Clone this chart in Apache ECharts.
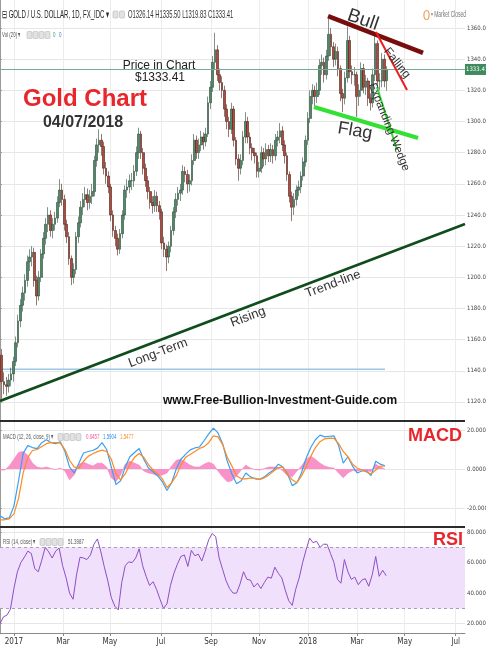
<!DOCTYPE html>
<html>
<head>
<meta charset="utf-8">
<script src="https://cdn.jsdelivr.net/npm/echarts@6/dist/echarts.min.js"></script>
<style>
  html, body { margin: 0; padding: 0; background: #ffffff; }
  #chart { width: 486px; height: 650px; }
</style>
</head>
<body>
<div id="chart"></div>
<script>
// ---------------- data ----------------
// Gold / USD, one candle per two trading days: [open, close, low, high]
const candleFirstBar = 1.5;
const candleStep = 2;
const candles = [
  [1150,1133,1122,1154],[1133,1131,1125,1139],[1131,1130,1124,1136],[1130,1134,1126,1138],[1134,1138,1130,1142],
  [1138,1146,1133,1149],[1146,1158,1143,1162],[1158,1172,1155,1176],[1172,1182,1168,1186],[1182,1190,1178,1194],
  [1190,1198,1185,1202],[1198,1210,1194,1214],[1210,1213,1204,1218],[1213,1216,1207,1220],[1216,1198,1194,1219],
  [1198,1188,1182,1201],[1188,1200,1185,1204],[1200,1215,1197,1218],[1215,1225,1212,1229],[1225,1234,1221,1238],
  [1234,1240,1229,1245],[1240,1230,1226,1243],[1230,1234,1225,1238],[1234,1238,1230,1242],[1238,1248,1235,1252],
  [1248,1256,1245,1263],[1256,1250,1246,1260],[1250,1234,1230,1253],[1234,1226,1222,1237],[1226,1212,1208,1229],
  [1212,1200,1195,1214],[1200,1205,1196,1209],[1205,1226,1202,1229],[1226,1235,1222,1239],[1235,1245,1232,1249],
  [1245,1250,1240,1254],[1250,1253,1245,1258],[1253,1248,1243,1257],[1248,1252,1244,1256],[1252,1255,1247,1260],
  [1255,1275,1252,1278],[1275,1285,1271,1289],[1285,1288,1280,1295],[1288,1284,1278,1292],[1284,1270,1266,1287],
  [1270,1265,1260,1274],[1265,1258,1254,1268],[1258,1240,1236,1260],[1240,1230,1226,1243],[1230,1225,1220,1233],
  [1225,1218,1214,1228],[1218,1228,1215,1231],[1228,1240,1225,1243],[1240,1256,1237,1259],[1256,1258,1251,1263],
  [1258,1262,1254,1266],[1262,1262,1256,1267],[1262,1268,1258,1272],[1268,1280,1265,1284],[1280,1292,1276,1296],
  [1292,1280,1276,1294],[1280,1270,1266,1283],[1270,1262,1258,1273],[1262,1255,1250,1265],[1255,1248,1244,1258],
  [1248,1246,1241,1252],[1246,1252,1242,1256],[1252,1246,1242,1255],[1246,1242,1237,1249],[1242,1222,1218,1244],
  [1222,1218,1213,1226],[1218,1213,1204,1221],[1213,1220,1209,1223],[1220,1230,1216,1233],[1230,1242,1227,1245],
  [1242,1250,1238,1254],[1250,1254,1246,1258],[1254,1256,1249,1260],[1256,1268,1253,1272],[1268,1266,1261,1271],
  [1266,1260,1254,1269],[1260,1262,1255,1266],[1262,1275,1259,1279],[1275,1288,1272,1292],[1288,1280,1276,1291],
  [1280,1285,1276,1289],[1285,1290,1281,1294],[1290,1287,1282,1293],[1287,1292,1284,1296],[1292,1312,1290,1316],
  [1312,1322,1308,1326],[1322,1338,1319,1342],[1338,1346,1333,1357],[1346,1330,1326,1349],[1330,1325,1320,1334],
  [1325,1320,1315,1329],[1320,1308,1303,1323],[1308,1300,1295,1311],[1300,1295,1290,1303],[1295,1308,1292,1312],
  [1308,1288,1284,1310],[1288,1276,1272,1290],[1276,1270,1262,1279],[1270,1275,1266,1279],[1275,1290,1272,1294],
  [1290,1300,1286,1306],[1300,1290,1286,1303],[1290,1283,1279,1293],[1283,1280,1275,1286],[1280,1278,1273,1283],
  [1278,1268,1264,1280],[1268,1270,1264,1274],[1270,1280,1267,1284],[1280,1276,1271,1283],[1276,1282,1272,1286],
  [1282,1278,1274,1285],[1278,1282,1274,1286],[1282,1278,1273,1285],[1278,1288,1275,1292],[1288,1290,1284,1294],
  [1290,1294,1286,1299],[1294,1285,1281,1297],[1285,1278,1273,1288],[1278,1266,1262,1280],[1266,1252,1248,1268],
  [1252,1245,1236,1255],[1245,1250,1240,1254],[1250,1256,1246,1259],[1256,1258,1252,1262],[1258,1265,1254,1268],
  [1265,1274,1262,1277],[1274,1288,1271,1291],[1288,1302,1285,1306],[1302,1316,1299,1320],[1316,1320,1311,1324],
  [1320,1316,1310,1323],[1316,1320,1312,1325],[1320,1336,1317,1340],[1336,1338,1330,1343],[1338,1330,1325,1341],
  [1330,1342,1327,1346],[1342,1356,1339,1366],[1356,1348,1342,1360],[1348,1340,1335,1351],[1340,1345,1336,1350],
  [1345,1334,1329,1348],[1334,1318,1313,1336],[1318,1315,1306,1321],[1315,1328,1311,1332],[1328,1352,1325,1361],
  [1352,1332,1328,1355],[1332,1330,1324,1336],[1330,1330,1323,1335],[1330,1316,1303,1332],[1316,1320,1310,1324],
  [1320,1334,1316,1338],[1334,1322,1318,1337],[1322,1326,1317,1330],[1326,1315,1310,1328],[1315,1312,1307,1318],
  [1312,1330,1309,1334],[1330,1350,1326,1356],[1350,1326,1322,1352],[1326,1326,1320,1331],[1326,1340,1322,1344],
  [1340,1326,1322,1343],[1326.14,1333.41,1319.83,1335.50]
];

// MACD (12, 26, close, 9), one value every four trading days
const macdStep = 4;
const macdLine = [
  -24,-25.5,-25,-19,-6,8,12,11,10.5,13.5,
  15,13.5,13,14,9,1,-2,3,8.2,9,
  9.5,10.7,13.5,10,1,-8,-6,1,6.3,8.5,
  10.5,5,0.5,-1.4,-3.5,-6.5,-11,-7,0,5,
  7.5,9.8,10.8,11.3,14.5,18,21,18.5,13,4,
  -2.5,-7.5,-6,-2,-4,-5,-5.3,-4,-2,-0.5,
  2.5,1,-2.5,-8.5,-7,-2,5.5,11,15,17.4,
  16.5,16.8,17,12,3,6.3,1.5,-2,-1,-1,
  -3.3,4,2.5,1.5904
];
const signalLine = [
  -26,-26,-25.5,-23,-15,-2,6,9.5,10,11.5,
  13,13.5,13.5,13.3,10,4.5,1,0.5,4,6.5,
  7.8,8.9,9.7,9,5,-2.5,-5.5,-2.5,2.5,6,
  8,6,2.3,-0.5,-2.5,-5,-9.5,-7,-3.5,2,
  6,7.5,9,10.5,11.5,13.5,17,16.5,12.5,6,
  1.5,-3.5,-5,-5,-4.6,-4.8,-5.3,-4.5,-3,-1,
  0.8,1,-3,-5.5,-7,-3.5,1,6.5,11,14,
  15.5,15.8,15.7,13,9,6.3,2.5,0.5,-0.5,-1.5,
  -2.6,-0.5,1.5,1.5477
];
const macdHist = [
  -0.5,-0.5,1.5,5,8.5,9,7,3,1,0.5,
  1,0.3,-0.3,0.5,-1,-5.5,-3,2.5,3.5,2.5,
  1.5,3,3,1,-4.5,-6.5,-3,2.5,4,3,
  2,-1,-2,-2.5,-3.5,-3,-2,1.5,4.5,5,
  3.5,2,1,1,2.5,3.5,2.5,-1,-4,-6.5,
  -6,-3.5,-0.5,2,0.5,-0.3,-0.5,0.3,1,1,
  0.8,-1,-3.5,-4,-1,1.5,5,6.5,5,3,
  1.5,0.8,0.5,-2,-4.5,-2,-0.8,-1,-0.5,-1,
  -1.2,2.5,1,0.0457
];

// RSI (14, close), one value every three trading days
const rsiStep = 3;
const rsiLine = [
  20,24.5,25.6,29.5,43,54,60,63.5,67.5,66,
  56,54,61.5,70,67,63,67.5,69.5,58,50,
  40,36,52,63.5,63,62,65,72,75.5,67,
  57,48,37,31.5,29,47,58,60.5,60,63,
  69,58,51,45,47.5,42.5,36,30,33,45,
  53,59,64,65,57.5,68,64.5,65.5,61,67.5,
  75,79,77,63,55.5,48,43,40,40,46,
  54,49,48.5,44,46.5,43,47,50.5,49.8,57,
  53,50,42,35,32,42.5,50,60,68.5,76,
  73,74,70,72,72,66,60,49,46.5,62,
  54,49,50.5,45.5,48.5,49.5,44.5,52,64,51,
  55,51.3987
];

// axis ticks
const priceTicks = [1120,1140,1160,1180,1200,1220,1240,1260,1280,1300,1320,1340,1360];
const macdTicks = [-20, 0, 20];
const rsiTicks = [20, 40, 60, 80];
const dateTickBars = [12, 54.3, 94.8, 138.8, 181.9, 223.3, 265.5, 307.8, 349, 393];
const dateTickText = ['2017','Mar','May','Jul','Sep','Nov','2018','Mar','May','Jul'];

// drawn trend lines: [bar, price]
const trendLine   = [[0, 1120.6], [401, 1234.2]];
const supportLine = [[0, 1141], [332, 1141]];
const bullLine    = [[282.9, 1367.7], [364.8, 1344.0]];
const fallingLine = [[324.2, 1357.4], [351.0, 1320.2]];
const flagLine    = [[270.8, 1309.3], [360.5, 1289.4]];
const wedgeLine   = [[325.1, 1322.1], [342.4, 1281.7]];

// ---------------- chart ----------------
const BAR_MAX = 401;
const NARROW = "'Liberation Sans Narrow','DejaVu Sans Condensed','Liberation Sans',sans-serif";
const SANS = "'Liberation Sans',Arial,sans-serif";
const lastCandle = candles[candles.length - 1];
const lastClose = lastCandle[1];

const candleData = candles.map((c, i) => [candleFirstBar + candleStep * i, c[0], c[1], c[2], c[3]]);
const stepped = (arr, step) => arr.map((v, j) => [j * step, v]);

function dateLabel(v) {
  const k = dateTickBars.findIndex(b => Math.abs(b - v) < 0.01);
  return k >= 0 ? dateTickText[k] : '';
}

function xAxisFor(gridIndex, withLabels) {
  return {
    type: 'value', gridIndex, min: 0, max: BAR_MAX,
    axisLine: { show: withLabels, lineStyle: { color: '#8a8a8a' } },
    axisTick: { show: withLabels, customValues: dateTickBars, length: 3, lineStyle: { color: '#8a8a8a' } },
    axisLabel: { show: withLabels, customValues: dateTickBars, formatter: dateLabel,
                 fontSize: 8, color: '#333', fontFamily: NARROW, margin: 5 },
    splitLine: { show: true, lineStyle: { color: '#ececec', width: 1 } }
  };
}

function yAxisFor(gridIndex, min, max, ticks, digits) {
  return {
    type: 'value', gridIndex, position: 'right', min, max,
    axisLine: { show: true, lineStyle: { color: '#9a9a9a' } },
    axisTick: { show: true, customValues: ticks, length: 2, lineStyle: { color: '#9a9a9a' } },
    axisLabel: { customValues: ticks, formatter: v => v.toFixed(digits),
                 fontSize: 6, color: '#444', fontFamily: NARROW, margin: 2 },
    splitLine: { show: true, lineStyle: { color: '#e6e6e6', width: 1 } }
  };
}

function trend(data, color, width, z) {
  return { type: 'line', xAxisIndex: 0, yAxisIndex: 0, data, showSymbol: false, silent: true,
           lineStyle: { color, width, cap: 'butt' }, z };
}

// small helpers for header/legend text that is drawn horizontally condensed
function squeezed(text, x, y, size, fill, sx) {
  return { type: 'text', x, y, scaleX: sx || 0.55, z: 50,
           style: { text, x: 0, y: 0, fill, font: `${size}px ${SANS}`,
                    textAlign: 'left', textVerticalAlign: 'middle', align: 'left', verticalAlign: 'middle' } };
}
function iconBox(x, y) {
  return { type: 'rect', z: 50, shape: { x, y, width: 5, height: 7, r: 1 },
           style: { fill: '#e2e2e2', stroke: '#b8b8b8', lineWidth: 0.6 } };
}
function label(text, x, y, size, fill, weight, rotation) {
  return { type: 'text', x, y, rotation: rotation || 0, z: 60,
           style: { text, x: 0, y: 0, fill, font: `${weight || 'normal'} ${size}px ${SANS}`,
                    textAlign: 'center', textVerticalAlign: 'middle', align: 'center', verticalAlign: 'middle' } };
}

const ohlcText = `O${lastCandle[0].toFixed(2)} H${lastCandle[3].toFixed(2)} L${lastCandle[2].toFixed(2)} C${lastCandle[1].toFixed(2)}`;

const graphics = [
  // panel separators
  { type: 'line', z: 40, shape: { x1: 0, y1: 421, x2: 465, y2: 421 }, style: { stroke: '#2b2b2b', lineWidth: 2 } },
  { type: 'line', z: 40, shape: { x1: 0, y1: 527, x2: 465, y2: 527 }, style: { stroke: '#2b2b2b', lineWidth: 2 } },

  // price pane header
  squeezed('⊟ GOLD / U.S. DOLLAR, 1D, FX_IDC ▾', 2, 15, 11, '#222', 0.55),
  iconBox(113, 11), iconBox(119.5, 11),
  squeezed(ohlcText, 128, 15, 11, '#333', 0.53),
  squeezed('Vol (20) ▾', 2, 35, 8, '#555', 0.55),
  iconBox(27, 31.5), iconBox(33, 31.5), iconBox(39, 31.5), iconBox(45, 31.5),
  squeezed('0', 53, 35, 8, '#2e9e4f', 0.55),
  squeezed('0', 59, 35, 8, '#2a7fd4', 0.55),
  { type: 'ellipse', z: 50, shape: { cx: 426.5, cy: 15, rx: 2.6, ry: 4.5 }, style: { fill: 'none', stroke: '#f0a060', lineWidth: 1.2 } },
  squeezed('▪ Market Closed', 431, 15, 9, '#777', 0.55),

  // annotations in price pane
  label('Price in Chart', 159, 66, 12, '#222'),
  label('$' + lastClose.toFixed(2), 160, 78, 12, '#222'),
  label('Gold Chart', 85, 99, 24, '#e8262b', 'bold'),
  label('04/07/2018', 83, 123, 16, '#333', 'bold'),
  label('Bull', 363, 20, 19, '#333', 'normal', -0.33),
  label('Falling', 397, 63, 12, '#333', 'normal', -0.9),
  label('Flag', 355, 131, 18, '#333', 'normal', -0.17),
  label('Expanding Wedge', 389, 127, 11.5, '#333', 'normal', -1.19),
  label('Long-Term', 158, 353, 13, '#333', 'normal', 0.36),
  label('Rising', 248, 317, 13, '#333', 'normal', 0.36),
  label('Trend-line', 333, 284, 13, '#333', 'normal', 0.36),
  label('www.Free-Bullion-Investment-Guide.com', 280, 401, 12, '#111', 'bold'),

  // MACD pane legend
  squeezed('MACD (12, 26, close, 9) ▾', 3, 437, 8, '#555', 0.55),
  iconBox(58, 433.5), iconBox(64, 433.5), iconBox(70, 433.5), iconBox(76, 433.5),
  squeezed(macdHist[macdHist.length - 1].toFixed(4), 86, 437, 8, '#f0509a', 0.55),
  squeezed(macdLine[macdLine.length - 1].toFixed(4), 103, 437, 8, '#2a8fe8', 0.55),
  squeezed(signalLine[signalLine.length - 1].toFixed(4), 120, 437, 8, '#ff8a1f', 0.55),
  label('MACD', 435, 436, 18, '#e8262b', 'bold'),

  // RSI pane legend
  squeezed('RSI (14, close) ▾', 3, 542, 8, '#555', 0.55),
  iconBox(40, 538.5), iconBox(46, 538.5), iconBox(52, 538.5), iconBox(58, 538.5),
  squeezed(rsiLine[rsiLine.length - 1].toFixed(4), 68, 542, 8, '#555', 0.55),
  label('RSI', 448, 540, 18, '#e8262b', 'bold')
];

const gridBase = { left: 0, right: 21, containLabel: false, outerBoundsMode: 'none' };

const option = {
  animation: false,
  backgroundColor: '#ffffff',
  grid: [
    Object.assign({ top: 0, height: 420 }, gridBase),
    Object.assign({ top: 422, height: 105 }, gridBase),
    Object.assign({ top: 527, height: 106 }, gridBase)
  ],
  xAxis: [xAxisFor(0, false), xAxisFor(1, false), xAxisFor(2, true)],
  yAxis: [
    yAxisFor(0, 1108.4, 1378, priceTicks, 2),
    yAxisFor(1, -29.7, 24.1, macdTicks, 4),
    yAxisFor(2, 13.9, 83.3, rsiTicks, 4)
  ],
  series: [
    {
      type: 'candlestick', name: 'GOLD', xAxisIndex: 0, yAxisIndex: 0,
      data: candleData, encode: { x: 0, y: [1, 2, 3, 4] },
      barWidth: 2.2,
      itemStyle: { color: '#4f8a68', color0: '#b04a3c', borderColor: '#2a4a38', borderColor0: '#4e1f18', borderWidth: 0.6 },
      markLine: {
        silent: true, symbol: ['none', 'none'],
        data: [{ yAxis: lastClose }],
        lineStyle: { color: '#7aa898', type: 'solid', width: 1 },
        label: { show: true, position: 'end', distance: 0, formatter: lastClose.toFixed(2),
                 backgroundColor: '#3f8a5c', color: '#fff', fontSize: 6, fontFamily: NARROW,
                 padding: [3, 0, 2, 1] }
      },
      z: 3
    },
    trend(supportLine, '#9cc6e6', 1.5, 2),
    trend(trendLine, '#0f4d1c', 2.6, 5),
    trend(bullLine, '#780d0d', 4.5, 5),
    trend(fallingLine, '#ee1d1d', 2, 5),
    trend(flagLine, '#35e035', 4, 5),
    trend(wedgeLine, '#35e035', 2, 5),
    {
      type: 'line', name: 'Histogram', xAxisIndex: 1, yAxisIndex: 1, data: stepped(macdHist, macdStep),
      showSymbol: false, lineStyle: { width: 0.6, color: '#f77fbd' },
      areaStyle: { color: '#f98cc6', opacity: 0.95, origin: 0 }, z: 2
    },
    {
      type: 'line', name: 'MACD', xAxisIndex: 1, yAxisIndex: 1, data: stepped(macdLine, macdStep),
      showSymbol: false, lineStyle: { width: 1.2, color: '#3aa0f2' }, z: 4
    },
    {
      type: 'line', name: 'Signal', xAxisIndex: 1, yAxisIndex: 1, data: stepped(signalLine, macdStep),
      showSymbol: false, lineStyle: { width: 1.2, color: '#ff8a1f' }, z: 4
    },
    {
      type: 'line', name: 'RSI', xAxisIndex: 2, yAxisIndex: 2, data: stepped(rsiLine, rsiStep),
      showSymbol: false, lineStyle: { width: 1, color: '#8d4fc4' }, z: 4,
      markArea: { silent: true, itemStyle: { color: '#f0e0fb' }, data: [[{ yAxis: 30 }, { yAxis: 70 }]] },
      markLine: {
        silent: true, symbol: ['none', 'none'], label: { show: false },
        lineStyle: { color: '#a99cb4', type: [3, 3], width: 1 },
        data: [{ yAxis: 70 }, { yAxis: 30 }]
      }
    }
  ],
  graphic: graphics
};

const chart = echarts.init(document.getElementById('chart'), null, { renderer: 'canvas' });
chart.setOption(option);
</script>
</body>
</html>
